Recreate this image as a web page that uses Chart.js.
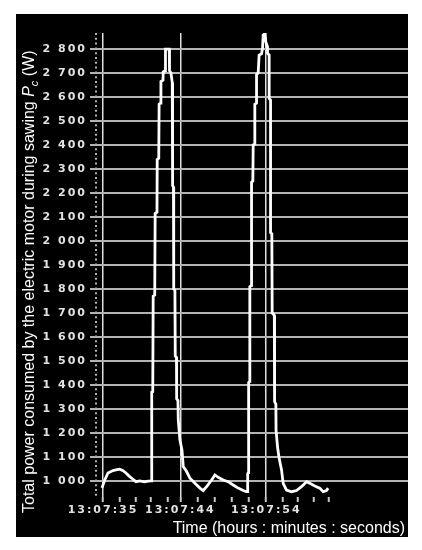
<!DOCTYPE html>
<html>
<head>
<meta charset="utf-8">
<script src="https://cdn.jsdelivr.net/npm/chart.js@4"></script>
<style>
  html, body { margin: 0; padding: 0; background: #fff; }
  #wrap { width: 422px; height: 550px; }
</style>
</head>
<body>
<div id="wrap"><canvas id="grafico" width="422" height="550"></canvas></div>
<script>
// time in seconds after 13:07:35
const timeSec = [
  -0.12, 0.20, 0.58, 1.16, 1.51, 1.94, 2.33, 2.67, 3.10, 3.49, 3.84, 4.27, 4.85, 5.23,
  5.64, 5.67, 5.79, 5.84, 6.02, 6.07, 6.28, 6.31, 6.49, 6.53, 6.69, 6.74, 6.98, 7.01,
  7.24, 7.27, 7.71, 7.74, 7.91, 8.06, 8.10, 8.10, 8.20, 8.23, 8.37, 8.41, 8.55, 8.57,
  8.72, 8.76, 8.95, 9.19, 9.34, 9.73, 10.12, 10.70, 11.28, 11.66, 12.06, 12.64, 13.02,
  13.41, 13.99, 14.57, 15.15, 15.73, 16.31, 16.71, 16.83, 16.84, 16.92, 16.95, 17.07,
  17.09, 17.27, 17.29, 17.44, 17.48, 17.65, 17.67, 17.87, 17.87, 18.06, 18.17, 18.45,
  18.57, 18.64, 18.84, 18.95, 19.15, 19.15, 19.34, 19.34, 19.50, 19.50, 19.65, 19.69,
  19.94, 19.97, 20.12, 20.14, 20.31, 20.47, 20.78, 20.97, 21.36, 21.94, 22.52, 23.10,
  23.69, 24.07, 24.65, 25.23, 25.62, 26.01, 26.20
];
// total power Pc (W)
const powerW = [
  971, 1004, 1033, 1043, 1046, 1049, 1043, 1033, 1018, 1007, 997, 1000, 996, 999,
  1000, 1370, 1372, 1770, 1775, 2115, 2120, 2340, 2345, 2570, 2575, 2665, 2670, 2705,
  2710, 2800, 2800, 2710, 2700, 2660, 2620, 2230, 2225, 1800, 1795, 1520, 1515, 1342,
  1335, 1254, 1170, 1129, 1060, 1039, 1011, 990, 970, 960, 976, 1004, 1025,
  1015, 1004, 997, 983, 970, 960, 955, 955, 1030, 1035, 1410, 1415,
  1810, 1815, 2245, 2250, 2400, 2405, 2570, 2575, 2694, 2700, 2775, 2780,
  2803, 2858, 2865, 2830, 2810, 2783, 2775, 2594, 2588, 2035, 2030, 1700,
  1690, 1330, 1320, 1212, 1143, 1101, 1046, 990, 962, 955, 960, 976,
  997, 990, 979, 970, 955, 960, 970
];

const yTicks = [1000, 1100, 1200, 1300, 1400, 1500, 1600, 1700, 1800, 1900,
  2000, 2100, 2200, 2300, 2400, 2500, 2600, 2700, 2800];
const xTicks = [0, 1.9, 3.8, 5.6, 7.5, 9, 11, 13, 15, 17, 19, 20.9, 22.7, 24.5, 26.3];
const xLabels = { 0: '13:07:35', 9: '13:07:44', 19: '13:07:54' };

const yTitle = 'Total power consumed by the electric motor during sawing ';
const xTitle = 'Time (hours : minutes : seconds)';

function formatarW(v) {
  if (v < 1000) return String(v);
  return Math.floor(v / 1000) + ' ' + String(v % 1000).padStart(3, '0');
}

// fundo preto, eixo pontilhado e textos dos eixos
const moldura = {
  id: 'moldura',
  beforeDraw(chart) {
    const ctx = chart.ctx;
    ctx.save();
    ctx.fillStyle = '#fff';
    ctx.fillRect(0, 0, chart.width, chart.height);
    ctx.fillStyle = '#000';
    ctx.fillRect(16, 14, 392, 523);
    ctx.restore();
    ctx.letterSpacing = '2px';
  },
  beforeDatasetsDraw(chart) {
    const ctx = chart.ctx;
    const area = chart.chartArea;
    ctx.save();
    ctx.strokeStyle = '#b0b0b0';
    ctx.lineWidth = 2;
    ctx.setLineDash([2, 2.8]);
    ctx.beginPath();
    ctx.moveTo(area.left - 1, area.top);
    ctx.lineTo(area.left - 1, area.bottom);
    ctx.stroke();
    ctx.restore();
  },
  afterDraw(chart) {
    const ctx = chart.ctx;
    ctx.letterSpacing = '0px';
    ctx.save();
    ctx.fillStyle = '#fff';
    ctx.textBaseline = 'alphabetic';

    // x title
    ctx.font = '16px "Liberation Sans", Arial, sans-serif';
    ctx.textAlign = 'right';
    ctx.fillText(xTitle, 405, 533);

    // y title, rotated
    ctx.translate(34, 513);
    ctx.rotate(-Math.PI / 2);
    ctx.textAlign = 'left';
    let pos = 0;
    ctx.font = '16px "Liberation Sans", Arial, sans-serif';
    ctx.fillText(yTitle, pos, 0);
    pos += ctx.measureText(yTitle).width;
    ctx.font = 'italic 16px "Liberation Sans", Arial, sans-serif';
    ctx.fillText('P', pos, 0);
    pos += ctx.measureText('P').width;
    ctx.font = 'italic 11px "Liberation Sans", Arial, sans-serif';
    ctx.fillText('c', pos, 4);
    pos += ctx.measureText('c').width;
    ctx.font = '16px "Liberation Sans", Arial, sans-serif';
    ctx.fillText(' (W)', pos, 0);
    ctx.restore();
  }
};

new Chart(document.getElementById('grafico'), {
  type: 'line',
  data: {
    datasets: [{
      data: timeSec.map((t, i) => ({ x: t, y: powerW[i] })),
      borderColor: '#ffffff',
      borderWidth: 2.8,
      pointRadius: 0,
      tension: 0,
      fill: false
    }]
  },
  options: {
    responsive: false,
    devicePixelRatio: 1,
    animation: false,
    layout: { padding: { top: 33, right: 14, left: 0, bottom: 0 } },
    plugins: {
      legend: { display: false },
      tooltip: { enabled: false }
    },
    scales: {
      x: {
        type: 'linear',
        min: -0.7,
        max: 35.5,
        afterFit(scale) { scale.height = 53; },
        afterBuildTicks(scale) { scale.ticks = xTicks.map(v => ({ value: v })); },
        border: { display: false },
        grid: {
          color: ctx => (ctx.tick && xLabels[ctx.tick.value] !== undefined) ? '#e0e0e0' : 'rgba(0,0,0,0)',
          lineWidth: 1.5,
          tickColor: '#c8c8c8',
          tickWidth: 2,
          tickLength: 5
        },
        ticks: {
          autoSkip: false,
          maxRotation: 0,
          padding: 2,
          color: '#e2e2e2',
          font: { family: '"DejaVu Sans", sans-serif', size: 11, weight: 'bold' },
          callback: v => xLabels[v] || ''
        }
      },
      y: {
        min: 933,
        max: 2867,
        afterFit(scale) { scale.width = 97; },
        afterBuildTicks(scale) { scale.ticks = yTicks.map(v => ({ value: v })); },
        border: { display: false },
        grid: {
          color: '#b4b4b4',
          lineWidth: 2,
          tickColor: '#b4b4b4',
          tickWidth: 2,
          tickLength: 7
        },
        ticks: {
          padding: 3,
          color: '#e2e2e2',
          font: { family: '"DejaVu Sans", sans-serif', size: 11, weight: 'bold' },
          callback: v => formatarW(v)
        }
      }
    }
  },
  plugins: [moldura]
});
</script>
</body>
</html>
